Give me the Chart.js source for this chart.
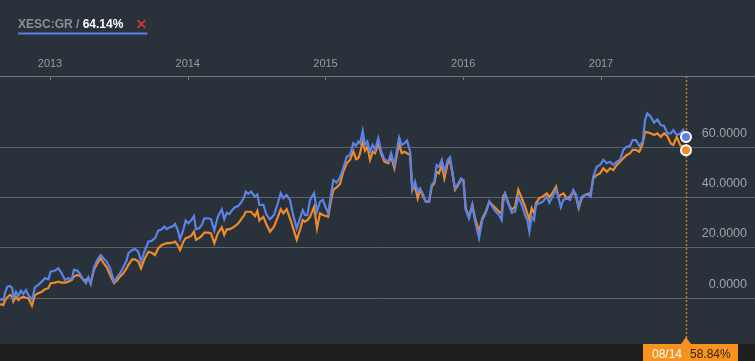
<!DOCTYPE html>
<html>
<head>
<meta charset="utf-8">
<script src="https://cdn.jsdelivr.net/npm/chart.js@4.4.1/dist/chart.umd.min.js"></script>
<style>
  html, body { margin: 0; padding: 0; background: #29313b; }
  #wrap { position: relative; width: 755px; height: 361px; }
</style>
</head>
<body>
<div id="wrap"><canvas id="perf"></canvas></div>
<script>
// decimal years (weekly-ish closes, Aug 2012 .. 14 Aug 2017)
const dates = [
  2012.637, 2012.661, 2012.673, 2012.690, 2012.710, 2012.726, 2012.734, 2012.753, 2012.770, 2012.789,
  2012.806, 2012.826, 2012.842, 2012.869, 2012.891, 2012.915, 2012.940, 2012.964, 2012.988,
  2013.005, 2013.036, 2013.060, 2013.085, 2013.109, 2013.133, 2013.158, 2013.174, 2013.198, 2013.218,
  2013.242, 2013.261, 2013.278, 2013.295, 2013.319, 2013.343, 2013.368, 2013.387, 2013.412, 2013.436,
  2013.465, 2013.489, 2013.508, 2013.532, 2013.557, 2013.568, 2013.597, 2013.617, 2013.641, 2013.661,
  2013.685, 2013.714, 2013.738, 2013.762, 2013.786, 2013.811, 2013.830, 2013.847, 2013.871, 2013.895,
  2013.908, 2013.927, 2013.944, 2013.968, 2013.985,
  2014.004, 2014.024, 2014.045, 2014.060, 2014.082, 2014.101, 2014.120, 2014.149, 2014.169, 2014.193,
  2014.218, 2014.247, 2014.265, 2014.283, 2014.302, 2014.319, 2014.343, 2014.367, 2014.392, 2014.411,
  2014.421, 2014.440, 2014.459, 2014.488, 2014.505, 2014.520, 2014.549, 2014.573, 2014.597, 2014.626,
  2014.650, 2014.675, 2014.694, 2014.718, 2014.742, 2014.762, 2014.791, 2014.815, 2014.835, 2014.851,
  2014.868, 2014.888, 2014.917, 2014.938, 2014.960, 2014.980,
  2015.004, 2015.020, 2015.038, 2015.057, 2015.081, 2015.105, 2015.129, 2015.154, 2015.178, 2015.202,
  2015.222, 2015.238, 2015.251, 2015.270, 2015.287, 2015.304, 2015.323, 2015.343, 2015.360, 2015.383,
  2015.403, 2015.427, 2015.456, 2015.476, 2015.500, 2015.534, 2015.553, 2015.572, 2015.592, 2015.614,
  2015.630, 2015.650, 2015.669, 2015.686, 2015.710, 2015.728, 2015.752, 2015.771, 2015.790, 2015.807,
  2015.824, 2015.844, 2015.863, 2015.887, 2015.904, 2015.921, 2015.940, 2015.964, 2015.984,
  2016.001, 2016.018, 2016.042, 2016.066, 2016.086, 2016.115, 2016.138, 2016.163, 2016.189, 2016.211,
  2016.236, 2016.260, 2016.279, 2016.289, 2016.303, 2016.327, 2016.352, 2016.376, 2016.400, 2016.425,
  2016.449, 2016.465, 2016.480, 2016.497, 2016.514, 2016.528, 2016.552, 2016.577, 2016.606, 2016.625,
  2016.654, 2016.674, 2016.690, 2016.708, 2016.727, 2016.751, 2016.775, 2016.799, 2016.819, 2016.838,
  2016.860, 2016.884, 2016.908, 2016.925, 2016.944, 2016.969, 2016.993,
  2017.017, 2017.042, 2017.066, 2017.090, 2017.114, 2017.138, 2017.162, 2017.187, 2017.211, 2017.230,
  2017.254, 2017.278, 2017.303, 2017.320, 2017.336, 2017.361, 2017.385, 2017.409, 2017.434, 2017.458,
  2017.482, 2017.506, 2017.525, 2017.550, 2017.574, 2017.596, 2017.617
];

// XESC:GR cumulative return, %
const xesc = [
  -0.4, -0.7, 2.0, 4.6, 4.9, 4.0, 0.0, 2.6, 0.9, 3.0,
  1.7, 3.3, 1.3, -0.7, 4.4, 5.3, 6.6, 8.0, 7.5,
  10.6, 11.0, 11.9, 9.9, 7.3, 8.0, 7.5, 11.3, 11.0, 9.7,
  7.3, 6.0, 8.3, 5.7, 12.3, 15.2, 17.2, 15.9, 14.6, 11.9,
  6.6, 8.6, 9.9, 12.3, 15.2, 17.9, 19.2, 19.6, 18.5, 14.6,
  18.5, 22.5, 22.8, 23.9, 26.9, 27.4, 28.5, 27.5, 28.2, 28.7,
  29.5, 27.2, 23.5, 27.2, 30.9,
  29.8, 30.9, 32.7, 27.4, 27.8, 29.1, 31.8, 31.8, 31.4, 26.9,
  32.4, 35.4, 31.4, 34.0, 33.5, 34.8, 36.2, 36.7, 38.4, 40.4,
  42.4, 41.5, 42.4, 40.4, 41.3, 37.1, 37.1, 33.1, 31.4, 33.1,
  37.1, 41.8, 39.8, 41.1, 39.1, 33.8, 27.8, 31.8, 35.1, 33.1,
  33.1, 39.1, 41.8, 34.5, 38.4, 39.1,
  35.8, 33.8, 40.4, 47.0, 46.0, 48.1, 51.7, 56.3, 57.0, 61.7,
  60.6, 62.3, 61.6, 66.6, 61.0, 62.3, 58.3, 61.0, 59.0, 63.6,
  58.7, 55.3, 54.3, 57.7, 53.0, 64.0, 61.0, 61.6, 62.7, 58.3,
  43.1, 46.4, 42.4, 43.7, 41.1, 38.4, 38.4, 45.1, 46.4, 53.0,
  52.3, 55.0, 50.3, 55.0, 56.1, 50.3, 43.7, 45.7, 47.7,
  47.0, 35.1, 31.8, 37.1, 30.5, 23.9, 31.1, 33.8, 38.4, 36.4,
  34.4, 33.1, 31.1, 37.8, 41.4, 37.8, 34.0, 34.4, 40.4, 37.1,
  33.1, 31.1, 26.5, 32.4, 31.1, 37.1, 37.8, 38.4, 40.4, 38.0,
  41.1, 43.1, 40.4, 36.2, 39.1, 39.8, 39.1, 43.1, 41.1, 36.4,
  40.4, 41.1, 41.1, 40.4, 48.4, 52.3, 53.0,
  55.0, 53.7, 54.3, 53.0, 54.3, 55.0, 59.0, 60.3, 60.6, 62.9,
  62.9, 60.6, 62.3, 70.9, 73.6, 72.2, 69.8, 71.2, 68.9, 68.5,
  65.6, 65.6, 66.9, 64.9, 65.5, 67.0, 64.14
];

// comparison series, %
const benchmark = [
  -2.3, -2.7, -0.9, 0.4, 1.3, 0.6, -1.3, 0.6, -0.7, 0.2,
  0.6, 0.2, 0.0, -3.0, 1.3, 2.0, 2.6, 3.6, 4.0,
  6.0, 6.2, 6.6, 6.2, 6.2, 6.6, 7.3, 8.6, 9.3, 8.9,
  7.3, 7.3, 8.0, 6.0, 11.3, 13.9, 15.9, 14.2, 12.3, 9.3,
  6.0, 7.3, 8.6, 9.9, 11.9, 13.2, 15.5, 15.5, 14.6, 11.9,
  15.5, 18.5, 18.1, 17.2, 19.9, 21.2, 21.6, 21.9, 21.9, 22.2,
  22.5, 21.2, 19.2, 22.5, 23.9,
  24.3, 24.8, 26.5, 23.2, 23.9, 24.8, 26.1, 26.1, 25.8, 21.9,
  25.8, 28.2, 25.2, 27.4, 27.4, 27.8, 28.7, 29.8, 31.8, 33.1,
  34.4, 34.4, 34.4, 32.7, 34.7, 30.9, 32.4, 29.1, 26.5, 28.5,
  31.8, 35.4, 33.8, 35.4, 31.8, 28.5, 23.2, 27.2, 31.1, 30.5,
  31.1, 32.4, 36.4, 27.8, 33.8, 33.1,
  32.7, 32.4, 38.4, 43.1, 44.1, 45.4, 50.3, 53.7, 55.0, 58.5,
  55.3, 55.7, 57.7, 62.3, 58.7, 60.3, 55.0, 58.3, 57.7, 61.6,
  57.7, 54.3, 53.7, 56.3, 51.7, 61.6, 57.7, 58.3, 57.7, 57.0,
  43.1, 44.4, 39.8, 43.1, 40.4, 38.4, 38.4, 44.4, 45.7, 50.3,
  49.7, 53.0, 47.7, 53.7, 55.0, 49.7, 43.1, 45.1, 47.3,
  47.0, 35.8, 32.4, 37.1, 31.8, 26.5, 31.8, 34.4, 38.4, 37.1,
  35.8, 34.4, 33.8, 40.4, 41.7, 37.8, 35.1, 36.4, 43.1, 39.8,
  36.4, 33.8, 31.1, 35.8, 33.8, 37.8, 39.8, 40.4, 41.7, 40.2,
  42.4, 44.4, 40.4, 41.1, 41.7, 39.8, 40.4, 42.4, 40.4, 35.8,
  39.8, 41.1, 41.5, 41.7, 47.7, 49.0, 49.7,
  51.7, 50.3, 51.7, 51.0, 53.0, 54.3, 55.7, 57.0, 57.7, 59.0,
  59.0, 58.3, 61.6, 66.2, 66.0, 65.6, 64.9, 65.6, 64.2, 65.6,
  64.5, 61.6, 61.0, 64.2, 61.0, 60.0, 58.84
];

const yearTicks = [2013, 2014, 2015, 2016, 2017];
const valueTicks = [0, 20, 40, 60];
const symbol = 'XESC:GR';
const cursorLabel = '08/14';

const BG = '#29313b';
const BLUE = '#5b83e6';
const ORANGE = '#ef8a28';
const FONT = '"Liberation Sans", Arial, sans-serif';
const last = dates.length - 1;

// no label overhang padding, so the plot runs edge to edge
const noPad = (s) => { s.paddingLeft = 0; s.paddingRight = 0; s.paddingTop = 0; s.paddingBottom = 0; };

const decor = {
  id: 'decor',
  beforeDraw(chart) {
    const { ctx, width, height } = chart;
    ctx.save();
    ctx.fillStyle = BG;
    ctx.fillRect(0, 0, width, height);
    ctx.restore();
  },
  beforeDatasetsDraw(chart) {
    const { ctx, chartArea, scales: { x } } = chart;
    const px = Math.round(x.getPixelForValue(dates[last])) + 0.5;
    ctx.save();
    ctx.strokeStyle = '#c0801f';
    ctx.lineWidth = 1.5;
    ctx.setLineDash([2, 2]);
    ctx.beginPath();
    ctx.moveTo(px, chartArea.top);
    ctx.lineTo(px, chartArea.bottom);
    ctx.stroke();
    ctx.restore();
  },
  afterDraw(chart) {
    const { ctx, chartArea, width, height, scales: { x } } = chart;
    ctx.save();

    // small ticks under the date axis
    ctx.strokeStyle = '#74787d';
    ctx.lineWidth = 1;
    yearTicks.forEach((yr) => {
      const px = Math.round(x.getPixelForValue(yr)) + 0.5;
      ctx.beginPath();
      ctx.moveTo(px, chartArea.top);
      ctx.lineTo(px, chartArea.top + 4);
      ctx.stroke();
    });

    // bottom strip with cursor label
    ctx.fillStyle = '#1f1f1f';
    ctx.fillRect(0, chartArea.bottom, width, height - chartArea.bottom);
    const cx = x.getPixelForValue(dates[last]);
    ctx.fillStyle = '#f7911f';
    ctx.fillRect(cx - 43, chartArea.bottom, 95, height - chartArea.bottom);
    ctx.beginPath();
    ctx.moveTo(cx - 5, chartArea.bottom);
    ctx.lineTo(cx, chartArea.bottom - 7);
    ctx.lineTo(cx + 5, chartArea.bottom);
    ctx.closePath();
    ctx.fill();
    ctx.font = '12px ' + FONT;
    ctx.textBaseline = 'alphabetic';
    ctx.fillStyle = '#ffffff';
    ctx.fillText(cursorLabel, cx - 34, chartArea.bottom + 13.5);
    ctx.fillStyle = '#3a2610';
    ctx.fillText(benchmark[last].toFixed(2) + '%', cx + 4, chartArea.bottom + 13.5);

    // header: symbol / last value, close mark, underline
    ctx.font = 'bold 12px ' + FONT;
    ctx.fillStyle = '#8b8f95';
    const head = symbol + ' / ';
    ctx.fillText(head, 18, 28);
    const w = ctx.measureText(head).width;
    ctx.fillStyle = '#ffffff';
    const val = xesc[last].toFixed(2) + '%';
    ctx.fillText(val, 18 + w, 28);
    const xw = 18 + w + ctx.measureText(val).width + 14;
    ctx.strokeStyle = '#e5392f';
    ctx.lineWidth = 1.6;
    ctx.beginPath();
    ctx.moveTo(xw, 20); ctx.lineTo(xw + 8, 28);
    ctx.moveTo(xw + 8, 20); ctx.lineTo(xw, 28);
    ctx.stroke();
    ctx.fillStyle = '#5b7fe8';
    ctx.fillRect(18, 32.5, xw + 10 - 18, 2);

    ctx.restore();
  }
};

const pointR = (c) => (c.dataIndex === last ? 5 : 0);

new Chart(document.getElementById('perf'), {
  type: 'line',
  data: {
    datasets: [
      {
        label: symbol,
        data: dates.map((d, i) => ({ x: d, y: xesc[i] })),
        borderColor: BLUE,
        borderWidth: 2.2,
        pointRadius: pointR,
        pointHoverRadius: pointR,
        pointBackgroundColor: BLUE,
        pointBorderColor: '#ffffff',
        pointBorderWidth: 2,
        tension: 0,
      },
      {
        label: 'benchmark',
        data: dates.map((d, i) => ({ x: d, y: benchmark[i] })),
        borderColor: ORANGE,
        borderWidth: 2.2,
        pointRadius: pointR,
        pointHoverRadius: pointR,
        pointBackgroundColor: ORANGE,
        pointBorderColor: '#ffffff',
        pointBorderWidth: 2,
        tension: 0,
      },
    ],
  },
  options: {
    responsive: true,
    maintainAspectRatio: false,
    animation: false,
    events: [],
    layout: { autoPadding: false, padding: { top: 0, left: 0, right: 0, bottom: 17 } },
    plugins: { legend: { display: false }, tooltip: { enabled: false } },
    scales: {
      x: {
        type: 'linear',
        position: 'top',
        min: 2012.637,
        max: 2018.118,
        afterBuildTicks: (s) => { s.ticks = yearTicks.map((v) => ({ value: v })); },
        afterFit: (s) => { s.height = 76; noPad(s); },
        grid: { display: false, drawTicks: false },
        border: { display: true, color: '#74787d', width: 1 },
        ticks: {
          color: '#9a9a9a',
          font: { family: FONT, size: 11 },
          padding: 5,
          maxRotation: 0,
          autoSkip: false,
          callback: (v) => String(v),
        },
      },
      y: {
        position: 'right',
        min: -18.2,
        max: 88.4,
        afterBuildTicks: (s) => { s.ticks = valueTicks.map((v) => ({ value: v })); },
        afterFit: (s) => { s.width = 0; noPad(s); },
        grid: { color: '#5e6369', lineWidth: 1, drawTicks: false },
        border: { display: false },
        ticks: {
          mirror: true,
          padding: -8,
          labelOffset: -14,
          color: '#9ea3a9',
          font: { family: FONT, size: 12.5 },
          callback: (v) => Number(v).toFixed(4),
        },
      },
    },
  },
  plugins: [decor],
});
</script>
</body>
</html>
